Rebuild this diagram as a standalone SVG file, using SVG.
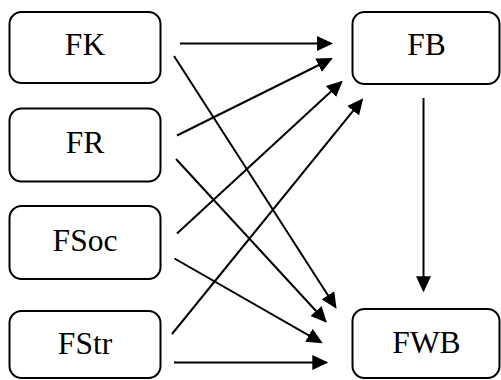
<svg xmlns="http://www.w3.org/2000/svg" width="501" height="380" viewBox="0 0 501 380">
<style>
.box{fill:#fff;stroke:#000;stroke-width:2}
text{font-family:'Liberation Serif','Times New Roman',serif;font-size:31.5px;fill:#000;text-anchor:middle}
.edge{stroke:#000;stroke-width:2;fill:none;marker-end:url(#ah)}
</style>
<defs>
<marker id="ah" markerUnits="userSpaceOnUse" markerWidth="17" markerHeight="17" viewBox="0 0 17 17" refX="14" refY="8.5" orient="auto">
<path d="M0,1 L16,8.5 L0,16 Z" fill="#000"/>
</marker>
</defs>
<rect width="501" height="380" fill="#fff"/>
<g id="FK"><rect class="box" x="9.5" y="12" width="151" height="71" rx="12"/><text x="85" y="55">FK</text></g>
<g id="FR"><rect class="box" x="9.5" y="108.5" width="151" height="73" rx="12"/><text x="85" y="153">FR</text></g>
<g id="FSoc"><rect class="box" x="9.5" y="206" width="151" height="73" rx="12"/><text x="85" y="251">FSoc</text></g>
<g id="FStr"><rect class="box" x="9.5" y="311" width="151" height="67" rx="12"/><text x="85" y="354">FStr</text></g>
<g id="FB"><rect class="box" x="352.5" y="12" width="147" height="72" rx="12"/><text x="426.5" y="55">FB</text></g>
<g id="FWB"><rect class="box" x="352.5" y="309" width="147" height="69" rx="12"/><text x="426.5" y="353">FWB</text></g>
<g id="connectors">
<line class="edge" x1="180" y1="43.5" x2="331" y2="43.5"/>
<line class="edge" x1="174" y1="56" x2="335.5" y2="307"/>
<line class="edge" x1="177" y1="135.5" x2="331" y2="59"/>
<line class="edge" x1="176" y1="159" x2="325.5" y2="321.3"/>
<line class="edge" x1="177" y1="233.5" x2="341.3" y2="82"/>
<line class="edge" x1="174.5" y1="258.5" x2="321" y2="342.3"/>
<line class="edge" x1="172" y1="334" x2="362" y2="99.8"/>
<line class="edge" x1="174" y1="362.5" x2="326.3" y2="362.5"/>
<line class="edge" x1="423.5" y1="98" x2="423.5" y2="290.3"/>
</g>
</svg>
